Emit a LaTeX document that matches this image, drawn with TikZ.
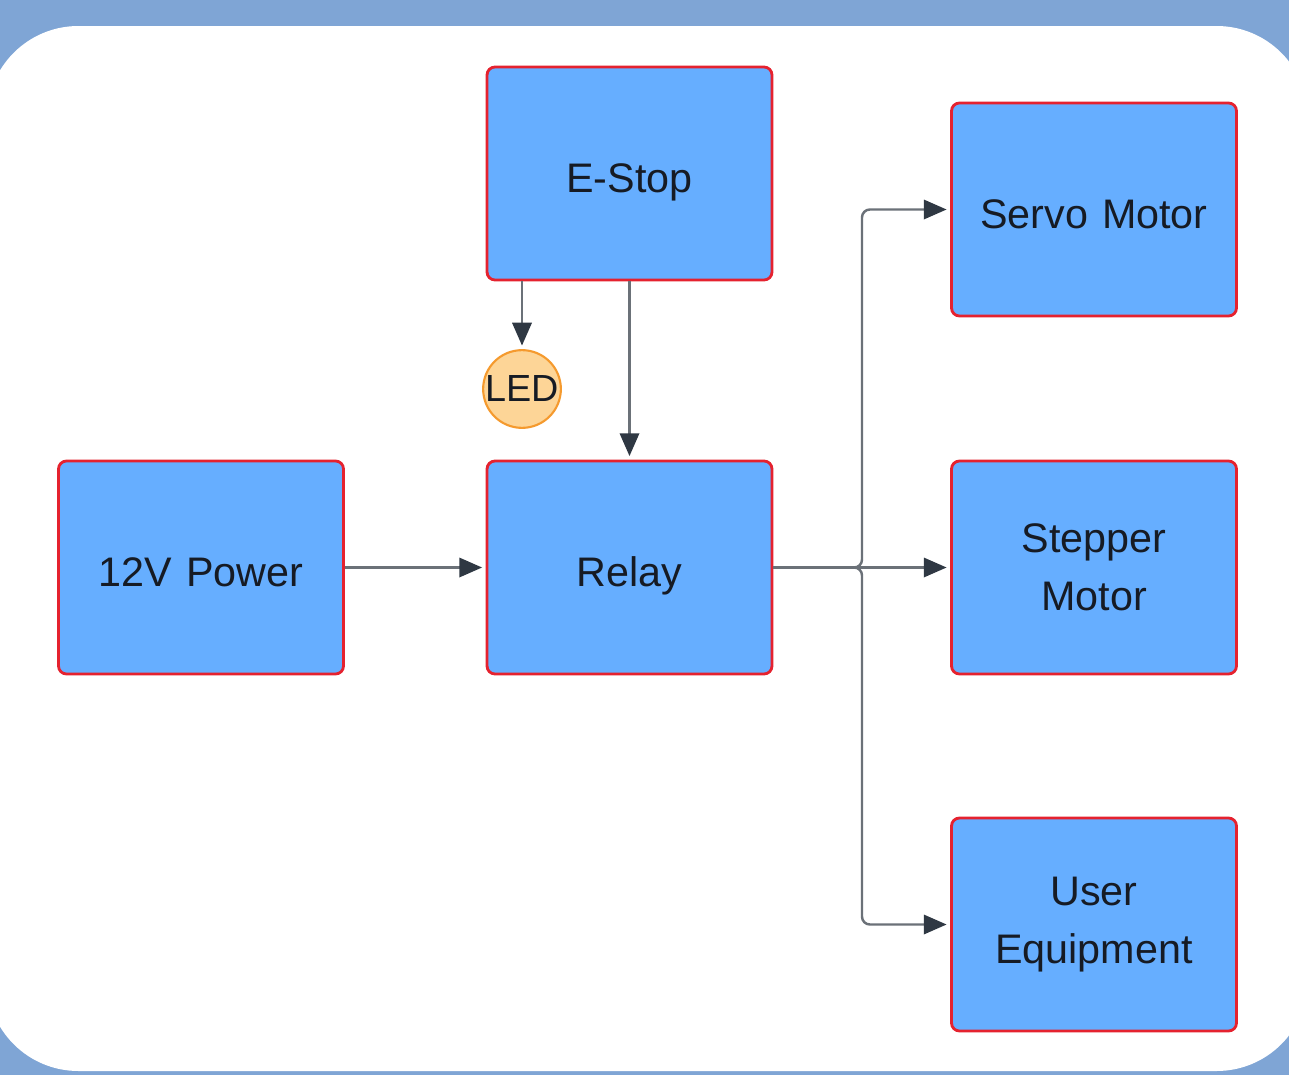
\documentclass[tikz,border=0pt]{standalone}
\usepackage{fontspec}
\setmainfont{Liberation Sans}
\usetikzlibrary{arrows.meta, positioning, calc}
\definecolor{bgblue}{HTML}{7FA5D5}
\definecolor{boxfill}{HTML}{66AEFF}
\definecolor{boxline}{HTML}{E5222F}
\definecolor{ledfill}{HTML}{FDD597}
\definecolor{ledline}{HTML}{F59A2E}
\definecolor{wiregrey}{HTML}{6B7178}
\definecolor{tipdark}{HTML}{2F3843}
\definecolor{inkdark}{HTML}{161B24}

\begin{document}
\begin{tikzpicture}[x=0.02cm, y=-0.02cm,
    font=\fontsize{23.5}{33}\selectfont, text=inkdark,
    block/.style={draw=boxline, fill=boxfill, line width=1.6pt, rounded corners=4.5pt,
                  minimum width=5.7cm, minimum height=4.26cm, align=center, text width=5cm},
    oneline/.style={block, text height=22pt, text depth=0pt},
    lamp/.style={circle, draw=ledline, fill=ledfill, line width=1.2pt, inner sep=0pt,
                 minimum size=1.48cm, font=\fontsize{21.5}{25}\selectfont},
    wire/.style={draw=wiregrey, line width=1.4pt, rounded corners=4.5pt,
                 -{Triangle[length=13pt, width=11pt, color=tipdark]}, shorten >=2pt}]
  % frame
  \useasboundingbox (0,0) rectangle (1289,1075);
  \fill[bgblue] (0,0) rectangle (1289,1075);
  \fill[white, rounded corners=52pt] (-13,26) rectangle (1308,1071);
  % blocks
  \node[oneline] (estop) at (629.5,173.5) {E-Stop};
  \node[oneline] (power) at (201,567.5) {12V Power};
  \node[oneline] (relay) at (629.5,567.5) {Relay};
  \node[oneline] (servo) at (1094,209.5) {Servo Motor};
  \node[block] (stepper) at (1094,567.5) {Stepper\\Motor};
  \node[block] (usereq) at (1094,924.5) {User\\Equipment};
  \node[lamp] (led) at (522,389) {LED};
  \coordinate (hub) at (862,567.5);
  % connectors
  \draw[wire] (estop.south -| led) -- (led);
  \draw[wire] (estop) -- (relay);
  \draw[wire] (power) -- (relay);
  \draw[wire] (relay) -- (hub) |- (servo);
  \draw[wire] (relay) -- (stepper);
  \draw[wire] (relay) -- (hub) |- (usereq);
\end{tikzpicture}
\end{document}
